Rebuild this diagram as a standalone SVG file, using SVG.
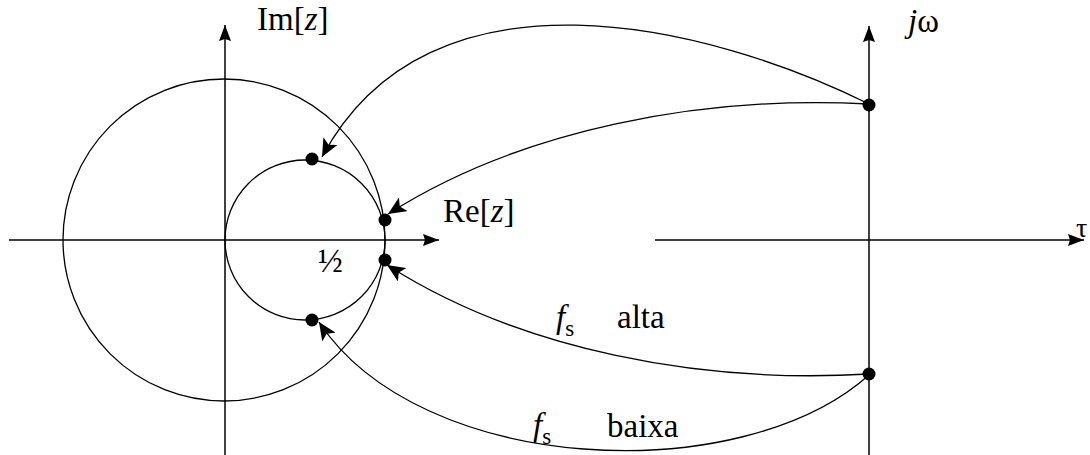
<svg xmlns="http://www.w3.org/2000/svg" width="1090" height="455" viewBox="0 0 1090 455">
<style>
.ax{fill:none;stroke:#000;stroke-width:1.5}
.cv{fill:none;stroke:#000;stroke-width:1.3}
.dot{fill:#000}
text{font-family:"Liberation Serif","Times New Roman",serif;fill:#000}
.lb{font-size:33px}
.it{font-style:italic}
</style>
<defs>
<marker id="axArrow" markerUnits="userSpaceOnUse" markerWidth="18" markerHeight="12" refX="16" refY="6" orient="auto">
<path d="M0,0 L16,6 L0,12 L2,6 z" fill="#000"/>
</marker>
<marker id="cvArrow" markerUnits="userSpaceOnUse" markerWidth="20" markerHeight="16" refX="18" refY="8" orient="auto">
<path d="M0,0 L18,8 L0,16 L4,8 z" fill="#000"/>
</marker>
</defs>
<g id="axes">
<line class="ax" x1="9" y1="240" x2="439" y2="240" marker-end="url(#axArrow)"/>
<line class="ax" x1="225" y1="455" x2="225" y2="25" marker-end="url(#axArrow)"/>
<line class="ax" x1="655" y1="240" x2="1084" y2="240" marker-end="url(#axArrow)"/>
<line class="ax" x1="869" y1="455" x2="869" y2="26" marker-end="url(#axArrow)"/>
</g>
<g id="circles">
<circle class="cv" cx="224" cy="240" r="161"/>
<circle class="cv" cx="305" cy="240" r="80"/>
</g>
<g id="connectors">
<path class="cv" d="M869,104 C710,25 430,-45 322,157" marker-end="url(#cvArrow)"/>
<path class="cv" d="M869,104 C700,95 520,130 388,214" marker-end="url(#cvArrow)"/>
<path class="cv" d="M869,374 C700,384 520,350 387,265" marker-end="url(#cvArrow)"/>
<path class="cv" d="M869,375 C740,490 420,475 319,322" marker-end="url(#cvArrow)"/>
</g>
<g id="dots">
<circle class="dot" cx="312" cy="159" r="6.5"/>
<circle class="dot" cx="385" cy="220" r="6.5"/>
<circle class="dot" cx="385" cy="260" r="6.5"/>
<circle class="dot" cx="312" cy="320" r="6.5"/>
<circle class="dot" cx="869" cy="105" r="6.5"/>
<circle class="dot" cx="869" cy="374" r="6.5"/>
</g>
<g id="labels">
<text class="lb" x="257" y="30">Im[<tspan class="it">z</tspan>]</text>
<text class="lb" x="908" y="32"><tspan class="it">j</tspan>ω</text>
<text class="lb" x="443" y="222">Re[<tspan class="it">z</tspan>]</text>
<text class="lb" x="318" y="272">½</text>
<text x="1076" y="237" font-size="28">τ</text>
<text class="lb" x="556" y="328"><tspan class="it">f</tspan><tspan font-size="23" dy="8">s</tspan></text>
<text class="lb" x="617" y="328">alta</text>
<text class="lb" x="533" y="436"><tspan class="it">f</tspan><tspan font-size="23" dy="8">s</tspan></text>
<text class="lb" x="607" y="437">baixa</text>
</g>
</svg>
